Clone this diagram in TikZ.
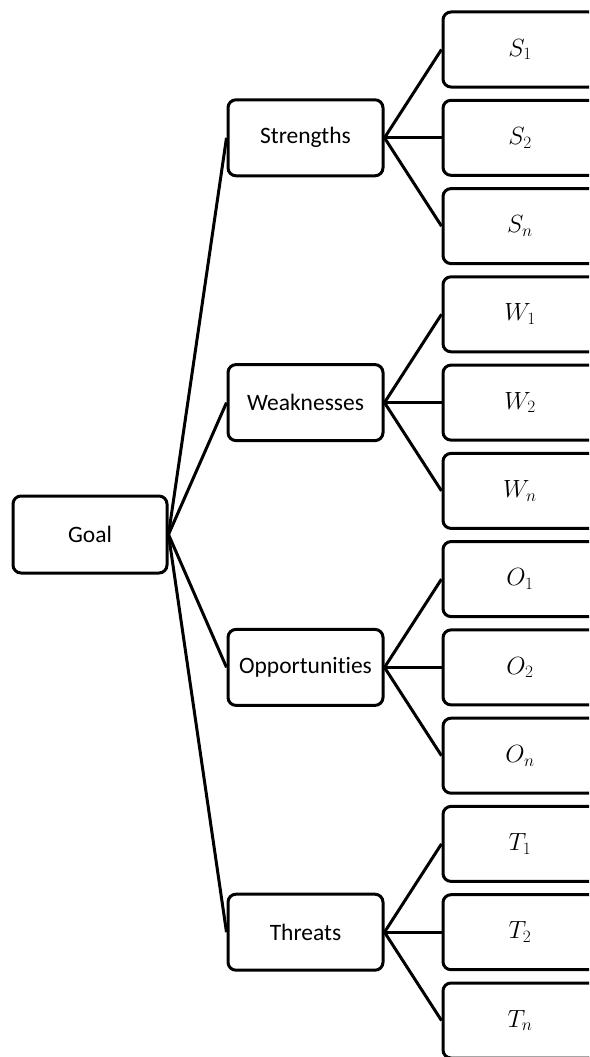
\documentclass[tikz,border=0pt]{standalone}
\usepackage{fontspec}
\setmainfont{Carlito}[Ligatures=CommonOff]
\begin{document}
\begin{tikzpicture}[x=1pt,y=-1pt,
  box/.style={draw=black,line width=3pt,rounded corners=8pt,fill=white,inner sep=0pt,font=\fontsize{23.5}{28}\selectfont},
  leaf/.style={box,minimum width=154pt,minimum height=75pt},
  mid/.style={box,minimum width=155pt,minimum height=76pt},
  link/.style={line width=3pt}]
\useasboundingbox (0,0) rectangle (589,1057);
\clip (0,0) rectangle (589,1057);
\node[box,minimum width=154pt,minimum height=77pt] (goal) at (90,534.5) {Goal};
\node[mid] (s) at (305.5,137.8) {Strengths};
\node[mid] (w) at (305.5,402.6) {Weaknesses};
\node[mid] (o) at (305.5,667.4) {Opportunities};
\node[mid] (t) at (305.5,932.2) {Threats};
\node[leaf] (s1) at (520,49.5) {$S_1$};
\node[leaf] (s2) at (520,137.8) {$S_2$};
\node[leaf] (sn) at (520,226.1) {$S_n$};
\node[leaf] (w1) at (520,314.3) {$W_1$};
\node[leaf] (w2) at (520,402.6) {$W_2$};
\node[leaf] (wn) at (520,490.9) {$W_n$};
\node[leaf] (o1) at (520,579.1) {$O_1$};
\node[leaf] (o2) at (520,667.4) {$O_2$};
\node[leaf] (on) at (520,755.7) {$O_n$};
\node[leaf] (t1) at (520,843.9) {$T_1$};
\node[leaf] (t2) at (520,932.2) {$T_2$};
\node[leaf] (tn) at (520,1020.5) {$T_n$};
\foreach \m in {s,w,o,t} \draw[link] (goal.east) -- (\m.west);
\foreach \m in {s,w,o,t} {
  \draw[link] (\m.east) -- (\m1.west);
  \draw[link] (\m.east) -- (\m2.west);
  \draw[link] (\m.east) -- (\m n.west);
}
\end{tikzpicture}
\end{document}
